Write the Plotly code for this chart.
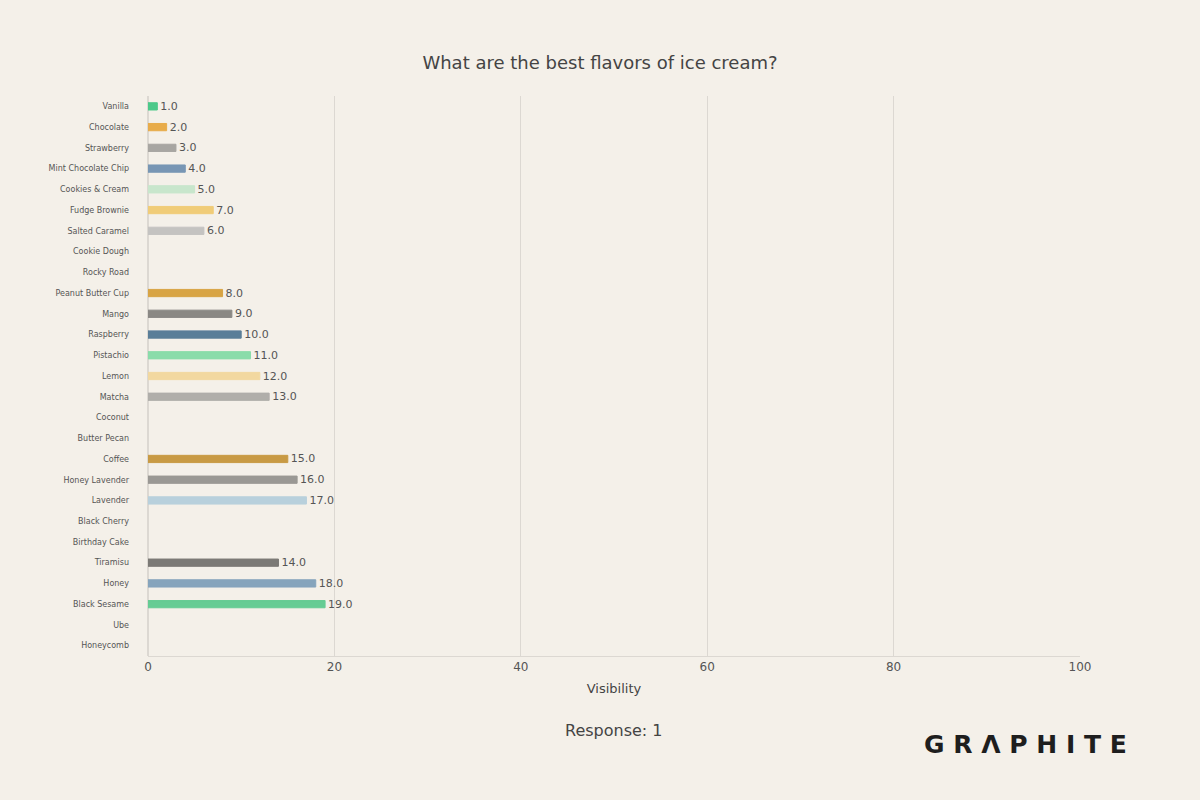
import plotly.graph_objects as go

flavors = ["Vanilla","Chocolate","Strawberry","Mint Chocolate Chip","Cookies & Cream","Fudge Brownie",
           "Salted Caramel","Cookie Dough","Rocky Road","Peanut Butter Cup","Mango","Raspberry","Pistachio",
           "Lemon","Matcha","Coconut","Butter Pecan","Coffee","Honey Lavender","Lavender","Black Cherry",
           "Birthday Cake","Tiramisu","Honey","Black Sesame","Ube","Honeycomb"]
values = [1,2,3,4,5,7,6,None,None,8,9,10,11,12,13,None,None,15,16,17,None,None,14,18,19,None,None]
colors = ["#4cc98a","#e8ac4a","#a8a6a2","#7896b4","#c8e6cc","#f0cc78","#c4c3c1","#cccccc","#cccccc",
          "#d8a444","#8a8884","#5a7e98","#8adcaa","#f2d8a0","#b0aeaa","#cccccc","#cccccc","#c89a44",
          "#9a9894","#b8d0dc","#cccccc","#cccccc","#7c7a76","#86a4bc","#66cc94","#cccccc","#cccccc"]

fig = go.Figure(go.Bar(
    x=values, y=flavors, orientation="h",
    marker=dict(color=colors, line=dict(color=colors, width=1)),
    text=[f"{v:.1f}" if v is not None else "" for v in values],
    textposition="outside", textfont=dict(size=11, color="#555"),
    constraintext="none", cliponaxis=False,
))
fig.update_layout(
    width=1200, height=800,
    paper_bgcolor="#f4f0e9", plot_bgcolor="#f4f0e9",
    font=dict(family="DejaVu Sans, sans-serif", color="#444"),
    title=dict(text="What are the best flavors of ice cream?", x=0.5, xanchor="center", y=0.93,
               font=dict(size=18, color="#444")),
    margin=dict(l=148, r=120, t=96, b=144),
    bargap=0.65, showlegend=False,
    xaxis=dict(range=[0,100], tickvals=[0,20,40,60,80,100], gridcolor="#dcd8d2", zeroline=True,
               zerolinecolor="#dcd8d2", showline=True, linecolor="#dcd8d2",
               title=dict(text="Visibility", font=dict(size=13), standoff=10), tickfont=dict(size=12, color="#555")),
    yaxis=dict(autorange="reversed", tickfont=dict(size=8, color="#555"), ticklabelstandoff=18),
    annotations=[
        dict(text="Response: 1", x=(614-148)/932, y=-(742-656)/560, xref="paper", yref="paper", showarrow=False,
             font=dict(size=16, color="#444")),
        dict(text="<b>G R Λ P H I T E</b>", x=(1025-148)/932, y=-(761-656)/560, xref="paper", yref="paper",
             xanchor="center", showarrow=False, font=dict(size=25, color="#1e1e1e"))
    ],
)
fig.write_html("out.html", config={"displayModeBar": False})
with open("out.html") as f:
    html = f.read()
html = html.replace("<head>", "<head><style>html,body{margin:0;padding:0;}</style>", 1)
with open("out.html", "w") as f:
    f.write(html)
